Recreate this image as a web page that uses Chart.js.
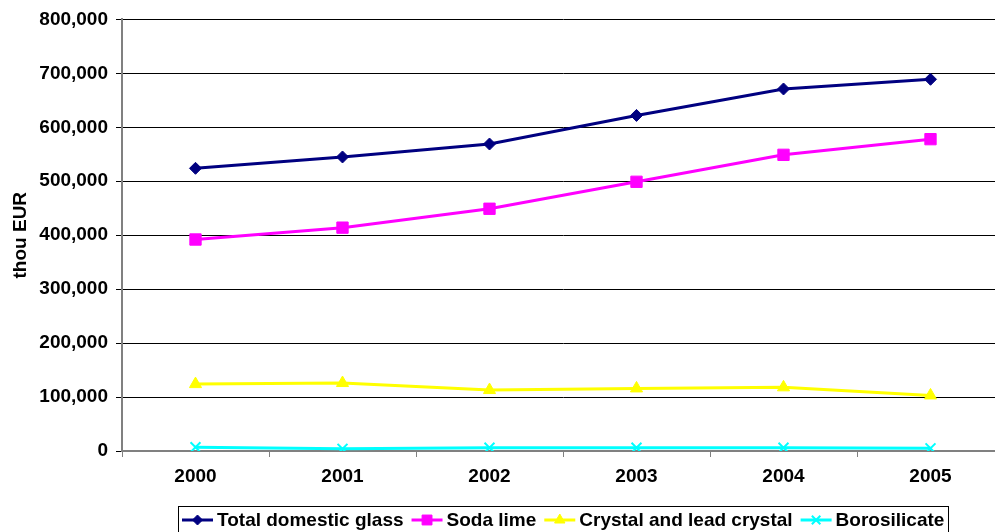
<!DOCTYPE html>
<html>
<head>
<meta charset="utf-8">
<script src="https://cdn.jsdelivr.net/npm/chart.js@4/dist/chart.umd.min.js"></script>
<style>
  html, body { margin: 0; padding: 0; background: #fff; overflow: hidden; }
  canvas { display: block; }
</style>
</head>
<body>
<!-- the original plot runs a little past the right edge of the picture -->
<canvas id="chart" width="1004" height="532"></canvas>
<script>
'use strict';

const years = ['2000', '2001', '2002', '2003', '2004', '2005'];
const totalGlass = [524000, 545000, 569000, 622000, 671000, 689000];
const sodaLime = [392000, 414000, 449000, 499000, 549000, 578000];
const crystal = [124000, 126000, 113000, 116000, 118000, 103000];
const borosilicate = [7000, 4000, 6000, 6000, 6000, 5000];
const yTicks = [0, 100000, 200000, 300000, 400000, 500000, 600000, 700000, 800000];

const FONT = 'Liberation Sans, Arial, sans-serif';

const series = (label, values, color, pointStyle, radius) => ({
    label: label,
    data: values,
    borderColor: color,
    backgroundColor: color,
    pointBackgroundColor: color,
    pointBorderColor: color,
    borderWidth: 3,
    pointStyle: pointStyle,
    pointRadius: radius,
    pointBorderWidth: pointStyle === 'crossRot' ? 2 : 1,
    tension: 0
});

const data = {
    labels: years,
    datasets: [
        series('Total domestic glass', totalGlass, '#000080', 'rectRot', 6),
        series('Soda lime', sodaLime, '#FF00FF', 'rect', 8),
        series('Crystal and lead crystal', crystal, '#FFFF00', 'triangle', 7),
        series('Borosilicate', borosilicate, '#00FFFF', 'crossRot', 7)
    ]
};

// legend drawn by hand so it can have the line + marker and the frame
const boxLegendPlugin = {
    id: 'box_legend',
    afterDraw: (chart) => {
        const ctx = chart.ctx;
        const left = 178, right = 948, top = 506, midY = 520;
        ctx.save();
        ctx.strokeStyle = '#000';
        ctx.lineWidth = 1;
        ctx.strokeRect(left + 0.5, top + 0.5, right - left, 40);
        ctx.font = 'bold 19px ' + FONT;
        ctx.textBaseline = 'middle';
        let x = left + 4;
        chart.data.datasets.forEach(ds => {
            ctx.strokeStyle = ds.borderColor;
            ctx.lineWidth = 3;
            ctx.beginPath();
            ctx.moveTo(x, midY);
            ctx.lineTo(x + 31, midY);
            ctx.stroke();
            ctx.fillStyle = ds.backgroundColor;
            ctx.lineWidth = ds.pointBorderWidth;
            Chart.helpers.drawPoint(ctx, {
                pointStyle: ds.pointStyle,
                radius: ds.pointRadius - 1,
                rotation: 0,
                borderWidth: ds.pointBorderWidth
            }, x + 15.5, midY);
            ctx.fillStyle = '#000';
            ctx.fillText(ds.label, x + 35, midY + 1);
            x += 35 + ctx.measureText(ds.label).width + 8;
        });
        ctx.restore();
    }
};

const options = {
    responsive: false,
    animation: false,
    layout: {
        // no automatic room for the point markers: the plot goes right to the edge
        autoPadding: false,
        padding: { left: 0, top: 18, right: 0, bottom: 0 }
    },
    scales: {
        x: {
            offset: true,
            grid: {
                display: true,
                drawOnChartArea: false,
                offset: true,
                color: '#808080',
                tickLength: 6
            },
            border: { color: '#808080', width: 2 },
            ticks: {
                color: '#000',
                padding: 8,
                font: { family: FONT, size: 19, weight: 'bold' }
            },
            afterFit: (scale) => { scale.height = 81; }
        },
        y: {
            min: 0,
            max: 800000,
            afterBuildTicks: (scale) => {
                scale.ticks = yTicks.map(v => ({ value: v }));
            },
            grid: {
                color: '#000',
                lineWidth: 1,
                tickLength: 6
            },
            border: { color: '#808080', width: 2 },
            ticks: {
                color: '#000',
                padding: 8,
                font: { family: FONT, size: 19, weight: 'bold' },
                callback: (v) => v.toLocaleString('en-US')
            },
            title: {
                display: true,
                text: 'thou EUR',
                color: '#000',
                padding: { top: 9, bottom: 0 },
                font: { family: FONT, size: 19, weight: 'bold' }
            },
            afterFit: (scale) => { scale.width = 122; }
        }
    },
    plugins: {
        legend: { display: false },
        tooltip: { enabled: false }
    }
};

new Chart(document.getElementById('chart'), {
    type: 'line',
    data: data,
    options: options,
    plugins: [boxLegendPlugin]
});
</script>
</body>
</html>
